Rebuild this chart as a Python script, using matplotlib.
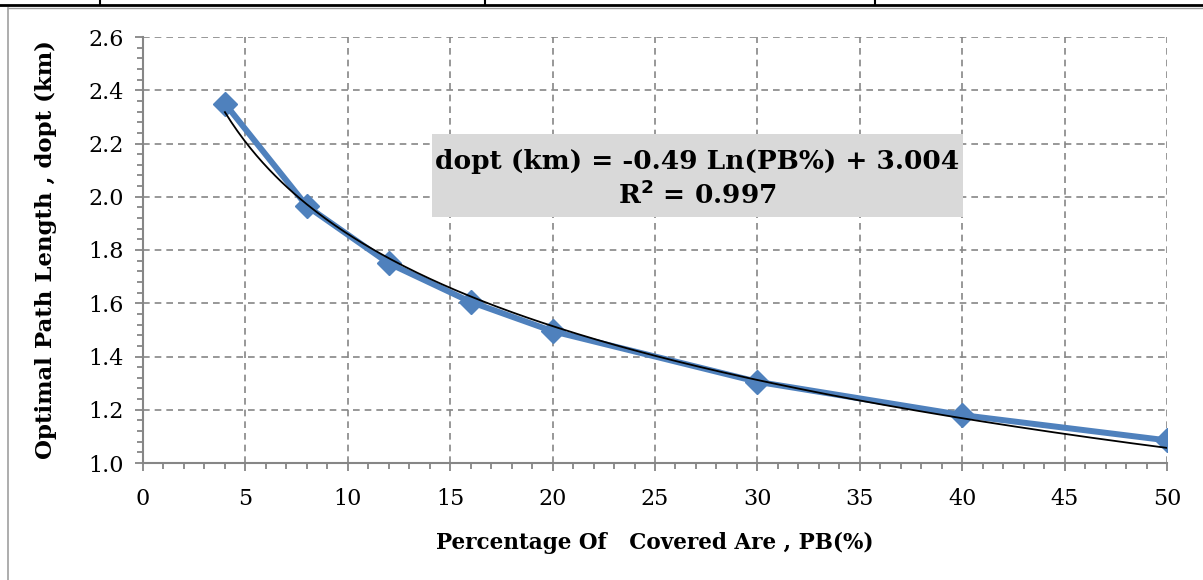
import numpy as np
import matplotlib
matplotlib.use("Agg")
import matplotlib.pyplot as plt
from matplotlib.lines import Line2D
from matplotlib.patches import Rectangle
from matplotlib.ticker import MultipleLocator

pb = [4, 8, 12, 16, 20, 30, 40, 50]
dopt = [2.35, 1.965, 1.75, 1.605, 1.495, 1.305, 1.18, 1.085]
x_ticks = [0, 5, 10, 15, 20, 25, 30, 35, 40, 45, 50]
y_ticks = [1.0, 1.2, 1.4, 1.6, 1.8, 2.0, 2.2, 2.4, 2.6]

plt.rcParams['font.family'] = ['DejaVu Serif']
W, H = 1203, 580
fig = plt.figure(figsize=(W / 100, H / 100), dpi=100)
ax = fig.add_axes([143 / W, 1 - 463 / H, (1167 - 143) / W, (463 - 37) / H])

grey = '#868686'
# trendline from data (log fit)
b, a = np.polyfit(np.log(pb), dopt, 1)
xs = np.linspace(min(pb), max(pb), 300)
ax.plot(pb, dopt, color='#4F81BD', lw=4.3, marker='D', ms=12, zorder=3)
ax.plot(xs, a + b * np.log(xs), color='black', lw=1.3, zorder=4)

ax.set_xlim(0, 50)
ax.set_ylim(1.0, 2.6)
ax.set_xticks(x_ticks)
ax.set_yticks(y_ticks)
ax.set_yticklabels([f'{v:.1f}' for v in y_ticks])
ax.xaxis.set_minor_locator(MultipleLocator(1))
ax.yaxis.set_minor_locator(MultipleLocator(0.04))
ax.grid(True, which='major', color=grey, ls=(0, (4, 3)), lw=1.2)
for s in ['top', 'right']:
    ax.spines[s].set_visible(False)
for s in ['left', 'bottom']:
    ax.spines[s].set_color(grey)
    ax.spines[s].set_linewidth(1.5)
ax.tick_params(which='major', length=6, width=1.3, color=grey, labelsize=16, pad=8)
ax.tick_params(which='minor', length=4, width=1.3, color=grey)
ax.tick_params(axis='x', pad=12)

ax.set_xlabel('Percentage Of   Covered Are , PB(%)', fontsize=15.5, fontweight='bold', labelpad=16)
ax.set_ylabel('Optimal Path Length , dopt (km)', fontsize=16.5, fontweight='bold', labelpad=22)

fig.add_artist(Rectangle((432 / W, 1 - 217 / H), (963 - 432) / W, (217 - 134) / H,
                         transform=fig.transFigure, fc='#D9D9D9', ec='none', zorder=5))
fig.text(697 / W, 1 - 162 / H, 'dopt (km) = -0.49 Ln(PB%) + 3.004',
         ha='center', va='center', fontsize=19, fontweight='bold', zorder=6)
fig.text(697 / W, 1 - 195 / H, 'R$^{\\mathbf{2}}$ = 0.997',
         ha='center', va='center', fontsize=19, fontweight='bold', zorder=6)

# frame / table borders
fig.add_artist(Line2D([0, 1], [1 - 5 / H, 1 - 5 / H], color='black', lw=2))
for xv in [100, 485, 875]:
    fig.add_artist(Line2D([xv / W, xv / W], [1, 1 - 5 / H], color='black', lw=1.5))
fig.add_artist(Line2D([8 / W, 8 / W], [0, 1 - 8 / H], color='#A0A0A0', lw=1.2))
fig.add_artist(Line2D([8 / W, 1], [1 - 8 / H, 1 - 8 / H], color='#A0A0A0', lw=1.0))

fig.savefig('out.png', dpi=100)
